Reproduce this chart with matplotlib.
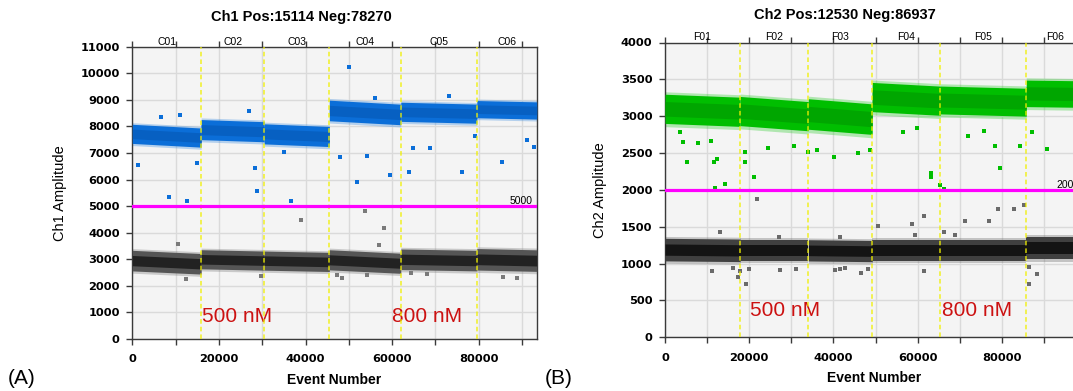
import matplotlib
matplotlib.use("Agg")
import matplotlib.pyplot as plt
from matplotlib.ticker import MultipleLocator
import matplotlib.transforms as mtransforms

# ---------------- data ----------------
# Panel A (Ch1)
wells_A = ["C01", "C02", "C03", "C04", "C05", "C06"]
bounds_A = [0, 15900, 30450, 45500, 62000, 79560, 93384]
posA_mid_start = [7720, 7880, 7720, 8600, 8550, 8650]
posA_mid_end = [7580, 7800, 7620, 8450, 8480, 8600]
posA_half = [400, 420, 420, 430, 400, 360]
negA_mid_start = [2950, 3000, 2950, 2980, 3000, 3000]
negA_mid_end = [2830, 2950, 2900, 2850, 2950, 2950]
negA_half = [430, 400, 400, 420, 430, 450]
posA_out_x = [1400, 6720, 10940, 14930, 8550, 12540, 28300, 28900, 26900, 35000, 36700,
              48000, 50100, 51800, 54200, 56000, 59430, 63970, 64760, 68770, 73160,
              76100, 79130, 85270, 91240, 92680]
posA_out_y = [6550, 8340, 8430, 6610, 5360, 5180, 6450, 5560, 8580, 7030, 5210,
              6840, 10250, 5910, 6900, 9060, 6160, 6300, 7180, 7180, 9150,
              6300, 7640, 6650, 7490, 7240]
negA_out_x = [10540, 12380, 38850, 53840, 58150, 47220, 48420, 54240, 64370, 68120,
              85500, 88840, 29690, 57030]
negA_out_y = [3590, 2240, 4490, 4800, 4175, 2400, 2310, 2425, 2490, 2460,
              2340, 2310, 2360, 3525]
thr_A = 5000
title_A = "Ch1 Pos:15114 Neg:78270"

# Panel B (Ch2)
wells_B = ["F01", "F02", "F03", "F04", "F05", "F06"]
bounds_B = [0, 17840, 34040, 49210, 65420, 85800, 99467]
posB_mid_start = [3100, 3070, 3030, 3260, 3220, 3310]
posB_mid_end = [3060, 3000, 2960, 3210, 3190, 3300]
posB_half = [220, 220, 230, 220, 210, 200]
negB_mid_start = [1190, 1180, 1180, 1180, 1180, 1210]
negB_mid_end = [1180, 1180, 1170, 1180, 1180, 1210]
negB_half = [170, 160, 160, 160, 160, 170]
posB_out_x = [3540, 4350, 5180, 7770, 10830, 11640, 12300, 11880, 14250, 18960, 18960,
              21210, 24470, 30710, 33940, 35990, 40190, 45950, 48700, 56500, 59740,
              63140, 63140, 65320, 66370, 71880, 75870, 78390, 79580, 84370, 87060, 90700]
posB_out_y = [2782, 2645, 2382, 2632, 2668, 2373, 2418, 2030, 2086, 2518, 2382,
              2177, 2568, 2591, 2518, 2545, 2450, 2500, 2541, 2786, 2841,
              2236, 2173, 2064, 2018, 2736, 2805, 2600, 2291, 2600, 2782, 2555]
negB_out_x = [21780, 13110, 11260, 16100, 17340, 19120, 19930, 17740, 27050, 27290,
              31110, 40430, 41640, 42710, 41640, 46510, 48130, 50570, 58670, 59310,
              61510, 61510, 66200, 68810, 71240, 76910, 79190, 82990, 85270, 86390,
              86500, 88270]
negB_out_y = [1877, 1432, 900, 936, 818, 727, 923, 900, 1364, 909,
              932, 909, 923, 945, 1364, 877, 923, 1514, 1536, 1391,
              1650, 900, 1423, 1391, 1573, 1582, 1741, 1741, 1795, 718,
              955, 855]
thr_B = 2000
title_B = "Ch2 Pos:12530 Neg:86937"

# ---------------- figure ----------------
W, H = 1073, 391
fig = plt.figure(figsize=(W / 100, H / 100), dpi=100)

ARIAL = "Liberation Sans"


def px(x0, y_top, w, h):
    return [x0 / W, (H - y_top - h) / H, w / W, h / H]


def draw_panel(ax, wells, bounds, p_ms, p_me, p_h, n_ms, n_me, n_h,
               pox, poy, nox, noy, pos_cols, neg_cols, thr, ymax, ystep):
    ax.set_facecolor("#f4f4f4")
    ax.set_xlim(0, bounds[-1])
    ax.set_ylim(0, ymax)
    ax.xaxis.set_major_locator(MultipleLocator(20000))
    ax.xaxis.set_minor_locator(MultipleLocator(10000))
    ax.yaxis.set_major_locator(MultipleLocator(ystep))
    ax.grid(True, which="both", axis="x", color="#dadada", lw=1.0, zorder=0)
    ax.grid(True, which="major", axis="y", color="#dadada", lw=1.0, zorder=0)
    ax.set_axisbelow(True)

    for i in range(len(wells)):
        x0, x1 = bounds[i], bounds[i + 1]
        for cols, ms, me, hh in ((pos_cols, p_ms, p_me, p_h), (neg_cols, n_ms, n_me, n_h)):
            fr, mn, co = cols
            h = hh[i]
            ax.fill_between([x0, x1], [ms[i] - h * 1.1, me[i] - h * 1.1],
                            [ms[i] + h * 1.05, me[i] + h * 1.05],
                            color=fr, lw=0, alpha=0.35, zorder=2)
            ax.fill_between([x0, x1], [ms[i] - h * 0.9, me[i] - h * 0.9],
                            [ms[i] + h * 0.9, me[i] + h * 0.9],
                            color=mn, lw=0, zorder=3)
            ax.fill_between([x0, x1], [ms[i] - h * 0.45, me[i] - h * 0.45],
                            [ms[i] + h * 0.45, me[i] + h * 0.45],
                            color=co, lw=0, zorder=4)
    ax.scatter(pox, poy, s=5, marker="s", color=pos_cols[1], lw=0, zorder=5)
    ax.scatter(nox, noy, s=5, marker="s", color=neg_cols[0], lw=0, zorder=5)

    for b in bounds[1:-1]:
        ax.axvline(b, color="#f0f000", lw=1.1, ls=(0, (3, 2)), alpha=0.85, zorder=6)
    ax.axhline(thr, color="#ff00ff", lw=2.3, zorder=7)

    trans = mtransforms.blended_transform_factory(ax.transData, ax.transAxes)
    for i, w in enumerate(wells):
        ax.text((bounds[i] + bounds[i + 1]) / 2, 1.0, w, transform=trans,
                ha="center", va="bottom", fontsize=7.5, family=ARIAL)

    for s in ax.spines.values():
        s.set_color("#3a3a3a")
        s.set_linewidth(1.0)
    ax.tick_params(axis="both", which="both", direction="out", length=4, width=1,
                   color="#3a3a3a", labelsize=8.2, pad=5)
    ax.tick_params(axis="x", which="both", top=True, pad=7)
    for lab in ax.get_xticklabels() + ax.get_yticklabels():
        lab.set_fontweight("bold")
        lab.set_family("DejaVu Sans")
    ax.set_xlabel("Event Number", fontsize=10, fontweight="bold", family=ARIAL, labelpad=6)


# Panel A
axA = fig.add_axes(px(132.3, 46.7, 404.4, 292.3))
draw_panel(axA, wells_A, bounds_A, posA_mid_start, posA_mid_end, posA_half,
           negA_mid_start, negA_mid_end, negA_half,
           posA_out_x, posA_out_y, negA_out_x, negA_out_y,
           ("#3d8de0", "#0b6ed8", "#0760c2"), ("#7a7a7a", "#555555", "#222222"),
           thr_A, 11000, 1000)
axA.set_ylabel("Ch1 Amplitude", fontsize=10.5, family=ARIAL, labelpad=10)
axA.text(0.99, thr_A, "5000", transform=mtransforms.blended_transform_factory(axA.transAxes, axA.transData),
         ha="right", va="bottom", fontsize=7.5, family=ARIAL)
axA.text(16200, 830, "500 nM", color="#cc1111", fontsize=15, family=ARIAL, va="center", ha="left")
axA.text(59900, 830, "800 nM", color="#cc1111", fontsize=15, family=ARIAL, va="center", ha="left")

# Panel B (clipped at the right figure edge, as in the reference)
axB = fig.add_axes(px(665, 42.5, 418.8, 294.8))
draw_panel(axB, wells_B, bounds_B, posB_mid_start, posB_mid_end, posB_half,
           negB_mid_start, negB_mid_end, negB_half,
           posB_out_x, posB_out_y, negB_out_x, negB_out_y,
           ("#33cc33", "#00be00", "#00a600"), ("#6a6a6a", "#404040", "#141414"),
           thr_B, 4000, 500)
axB.set_ylabel("Ch2 Amplitude", fontsize=10.5, family=ARIAL, labelpad=10)
axB.text(0.99, thr_B, "2000", transform=mtransforms.blended_transform_factory(axB.transAxes, axB.transData),
         ha="right", va="bottom", fontsize=7.5, family=ARIAL)
axB.text(20200, 357, "500 nM", color="#cc1111", fontsize=15, family=ARIAL, va="center", ha="left")
axB.text(65700, 357, "800 nM", color="#cc1111", fontsize=15, family=ARIAL, va="center", ha="left")

# Titles and panel letters
fig.text(301 / W, 1 - 17 / H, title_A, ha="center", va="center", fontsize=10.5,
         fontweight="bold", family=ARIAL)
fig.text(845 / W, 1 - 15 / H, title_B, ha="center", va="center", fontsize=10.5,
         fontweight="bold", family=ARIAL)
fig.text(8 / W, 1 - 379 / H, "(A)", ha="left", va="center", fontsize=15, family=ARIAL)
fig.text(545 / W, 1 - 379 / H, "(B)", ha="left", va="center", fontsize=15, family=ARIAL)

fig.savefig("out.png", dpi=100)
